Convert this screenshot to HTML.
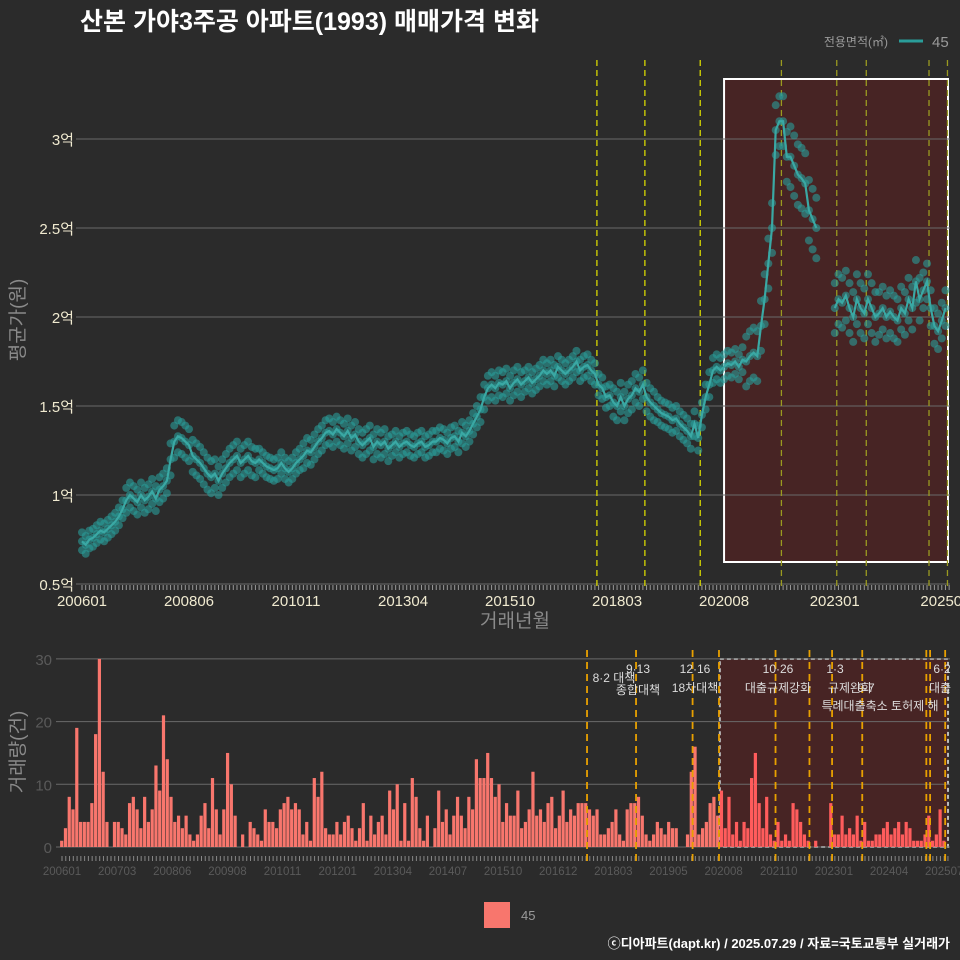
<!DOCTYPE html>
<html><head><meta charset="utf-8"><style>
html,body{margin:0;padding:0;background:#2b2b2b}
svg{display:block;font-family:"Liberation Sans","Noto Sans CJK KR",sans-serif}
</style></head><body>
<svg id="c" width="960" height="960" viewBox="0 0 960 960">
<rect width="960" height="960" fill="#2b2b2b"/>
<text x="80" y="30" fill="#ffffff" font-size="25" font-weight="bold">산본 가야3주공 아파트(1993) 매매가격 변화</text>
<text x="888" y="46" fill="#9a9a9a" font-size="12" text-anchor="end">전용면적(㎡)</text>
<line x1="899" y1="41" x2="923" y2="41" stroke="#2a9d9a" stroke-width="3"/>
<text x="932" y="47" fill="#9a9a9a" font-size="15">45</text>
<text transform="translate(24,320) rotate(-90)" fill="#8a8a8a" font-size="19" text-anchor="middle">평균가(원)</text>
<text x="515" y="627" fill="#8a8a8a" font-size="19" text-anchor="middle">거래년월</text>
<text transform="translate(24,752) rotate(-90)" fill="#8a8a8a" font-size="19" text-anchor="middle">거래량(건)</text>
<rect x="484" y="902" width="26" height="26" fill="#f8766d"/>
<text x="521" y="920" fill="#9a9a9a" font-size="13">45</text>
<text x="950" y="948" fill="#ffffff" font-size="13" font-weight="bold" text-anchor="end">ⓒ디아파트(dapt.kr) / 2025.07.29 / 자료=국토교통부 실거래가</text>
<g id="topg"></g><g id="botg"></g>
</svg>
<script>
const priceMonthly=[
0.74,0.72,0.75,0.76,0.78,0.80,0.79,0.81,0.83,0.85,0.88,0.92,
0.97,1.00,0.98,0.96,1.00,0.97,0.99,1.02,0.98,1.03,1.05,1.08,
1.20,1.30,1.33,1.32,1.30,1.28,1.22,1.20,1.18,1.15,1.12,1.10,
1.12,1.08,1.12,1.15,1.18,1.20,1.22,1.18,1.20,1.22,1.19,1.18,
1.20,1.18,1.16,1.15,1.14,1.15,1.18,1.15,1.13,1.15,1.18,1.20,
1.22,1.25,1.24,1.27,1.30,1.32,1.35,1.36,1.34,1.37,1.35,1.33,
1.36,1.32,1.34,1.30,1.28,1.30,1.32,1.27,1.30,1.28,1.30,1.26,
1.28,1.30,1.27,1.29,1.30,1.28,1.27,1.29,1.30,1.27,1.28,1.30,
1.30,1.32,1.31,1.29,1.32,1.33,1.30,1.35,1.33,1.36,1.40,1.44,
1.48,1.55,1.60,1.62,1.60,1.63,1.62,1.64,1.60,1.63,1.65,1.62,
1.64,1.66,1.63,1.65,1.67,1.70,1.68,1.70,1.67,1.72,1.70,1.68,
1.70,1.72,1.75,1.70,1.72,1.73,1.70,1.68,1.62,1.60,1.55,1.56,
1.52,1.50,1.55,1.50,1.54,1.56,1.60,1.58,1.62,1.55,1.52,1.50,
1.48,1.46,1.45,1.44,1.42,1.43,1.40,1.38,1.36,1.33,1.40,1.32,
1.45,1.55,1.62,1.70,1.72,1.70,1.72,1.74,1.73,1.75,1.72,1.76,
1.75,1.78,1.80,1.78,1.95,2.10,2.30,2.50,3.05,3.10,3.10,2.90,
2.90,2.85,2.80,2.78,2.75,2.60,2.55,2.50,null,null,null,null,
2.05,2.10,2.08,2.12,2.05,2.00,2.10,2.05,2.02,2.10,2.05,2.00,
2.02,2.05,2.00,2.03,2.00,1.98,2.05,2.02,2.10,2.05,2.20,2.10,
2.15,2.20,2.05,1.95,1.92,1.98,2.05];
const spreadByYear=[0.05,0.07,0.09,0.08,0.06,0.07,0.07,0.06,0.06,0.07,0.06,0.06,0.08,0.07,0.07,0.14,0.17,0.14,0.12,0.1];
const volume=[
1,3,8,6,19,4,4,4,7,18,30,12,
4,0,4,4,3,2,7,8,6,3,8,4,
6,13,9,21,14,8,4,5,3,5,2,1,
2,5,7,3,11,6,2,6,15,10,5,0,
2,0,4,3,2,1,6,4,4,3,6,7,
8,6,7,6,2,4,1,11,8,12,3,2,
2,4,2,4,5,3,1,3,7,1,5,2,
4,5,2,9,6,10,1,7,1,11,8,3,
1,5,0,3,9,4,6,2,5,8,5,3,
8,6,14,11,11,15,11,8,10,4,7,5,
5,9,3,4,6,12,5,6,4,7,8,3,
5,9,4,6,5,7,7,7,6,5,6,2,
2,3,4,6,2,1,6,7,7,8,5,2,
1,2,4,3,2,4,3,3,0,0,2,12,
16,2,3,4,7,8,5,9,3,8,2,4,
1,4,3,11,15,7,3,8,2,1,4,1,
2,1,7,6,4,2,1,0,1,0,0,0,
7,2,2,5,2,3,2,5,1,4,1,1,
2,2,3,4,2,3,4,2,4,3,1,1,
1,2,5,1,2,6,1];
const priceTicks=[0.5,1,1.5,2,2.5,3];
const priceTickLabels=["0.5억","1억","1.5억","2억","2.5억","3억"];
const topXLabels=["200601","200806","201011","201304","201510","201803","202008","202301","202507"];
const topXIdx=[0,29,58,87,116,145,174,204,234];
const botXLabels=["200601","200703","200806","200908","201011","201201","201304","201407","201510","201612","201803","201905","202008","202110","202301","202404","202507"];
const volTicks=[0,10,20,30];
const policyMonths=[139,152,167,189,204,212,229,234];
const botPolicyMonths=[139,152,167,174,189,198,204,212,229,230,234];
const NS="http://www.w3.org/2000/svg";
const xT=m=>82+m*3.69, yT=v=>584-(v-0.5)*178;
const xB=m=>62+m*3.77, yB=v=>847-v*6.27;
function mk(p,t,a){const e=document.createElementNS(NS,t);for(const k in a)e.setAttribute(k,a[k]);p.appendChild(e);return e;}
const gTop=document.getElementById('topg'), gBot=document.getElementById('botg');
let bx=mk(gTop,'rect',{x:xT(174),y:79,width:948-xT(174),height:483,fill:'#5a1f20',"fill-opacity":0.6,stroke:'#ffffff','stroke-width':2});


priceTicks.forEach((v,i)=>{
 let g=mk(gTop,'line',{x1:76,x2:950,y1:yT(v),y2:yT(v),stroke:'#6a6a6a','stroke-width':1});
 
 
 let t=mk(gTop,'text',{x:74,y:yT(v)+6,fill:'#f0ead0','font-size':15,'text-anchor':'end'});t.textContent=priceTickLabels[i];
 
 
});
for(let m=0;m<=235;m++){let k=mk(gTop,'line',{x1:xT(m),x2:xT(m),y1:585,y2:590,stroke:'#999','stroke-width':1});
 
 }
topXLabels.forEach((s,i)=>{let t=mk(gTop,'text',{x:xT(topXIdx[i]),y:606,fill:'#f0ead0','font-size':15,'text-anchor':'middle'});t.textContent=s;
 
 });
policyMonths.forEach((m,i)=>{let l=mk(gTop,'line',{x1:xT(m)+2,x2:xT(m)+2,y1:60,y2:590,stroke:i<3?'#d8d800':'#9a9a20','stroke-width':1.3,'stroke-dasharray':'6,4'});
 
 });
priceMonthly.forEach((v,m)=>{if(v==null)return;const s=spreadByYear[Math.floor(m/12)];
 [v,v+s,v-s].forEach(p=>{let c=mk(gTop,'circle',{cx:xT(m),cy:yT(p),r:4,fill:'#2a9d9a','fill-opacity':0.6});
 
 });});
let d='',pen=false;priceMonthly.forEach((v,m)=>{if(v==null){pen=false;return;}d+=(pen?'L':'M')+xT(m).toFixed(1)+','+yT(v).toFixed(1);pen=true;});
let pl=mk(gTop,'path',{d:d,fill:'none',stroke:'#3aa8a4','stroke-width':2.2});


let bb=mk(gBot,'rect',{x:xB(174.5),y:659,width:948-xB(174.5),height:188,fill:'#5a1f20','fill-opacity':0.6,stroke:'#bbbbbb','stroke-width':2,'stroke-dasharray':'4,3'});


volTicks.forEach(v=>{let g=mk(gBot,'line',{x1:56,x2:950,y1:yB(v),y2:yB(v),stroke:'#6a6a6a'});
 
 
 let t=mk(gBot,'text',{x:52,y:yB(v)+6,fill:'#5a5a5a','font-size':15,'text-anchor':'end'});t.textContent=v;
 
 });
volume.forEach((v,m)=>{let r=mk(gBot,'rect',{x:xB(m)-1.9,y:yB(v),width:3.2,height:v*6.27,fill:m>=175?'#ff5c5c':'#f8766d'});
 
 });
for(let m=0;m<=235;m++){let k=mk(gBot,'line',{x1:xB(m),x2:xB(m),y1:856,y2:861,stroke:'#888'});
 
 }
botXLabels.forEach((s,i)=>{let t=mk(gBot,'text',{x:xB(i*234/16),y:875,fill:'#5a5a5a','font-size':11.5,'text-anchor':'middle'});t.textContent=s;
 
 });
botPolicyMonths.forEach(m=>{let l=mk(gBot,'line',{x1:xB(m)+1,x2:xB(m)+1,y1:650,y2:862,stroke:'#e8a000','stroke-width':1.8,'stroke-dasharray':'7,5'});
 
 });
const notes=[["8·2 대책",614,682],["9·13",638,673],["종합대책",638,694],["12·16",695,673],["18차대책",695,692],["10·26",778,673],["대출규제강화",778,692],["1·3",835,673],["규제완화",850,692],["9·7",866,692],["특례대출축소 토허제 해",880,710],["6·2",942,673],["대출",940,692]];
notes.forEach(n=>{let t=mk(gBot,'text',{x:n[1],y:n[2],fill:'#dddddd','font-size':12,'text-anchor':'middle'});t.textContent=n[0];
 
 });
</script>
</body></html>
